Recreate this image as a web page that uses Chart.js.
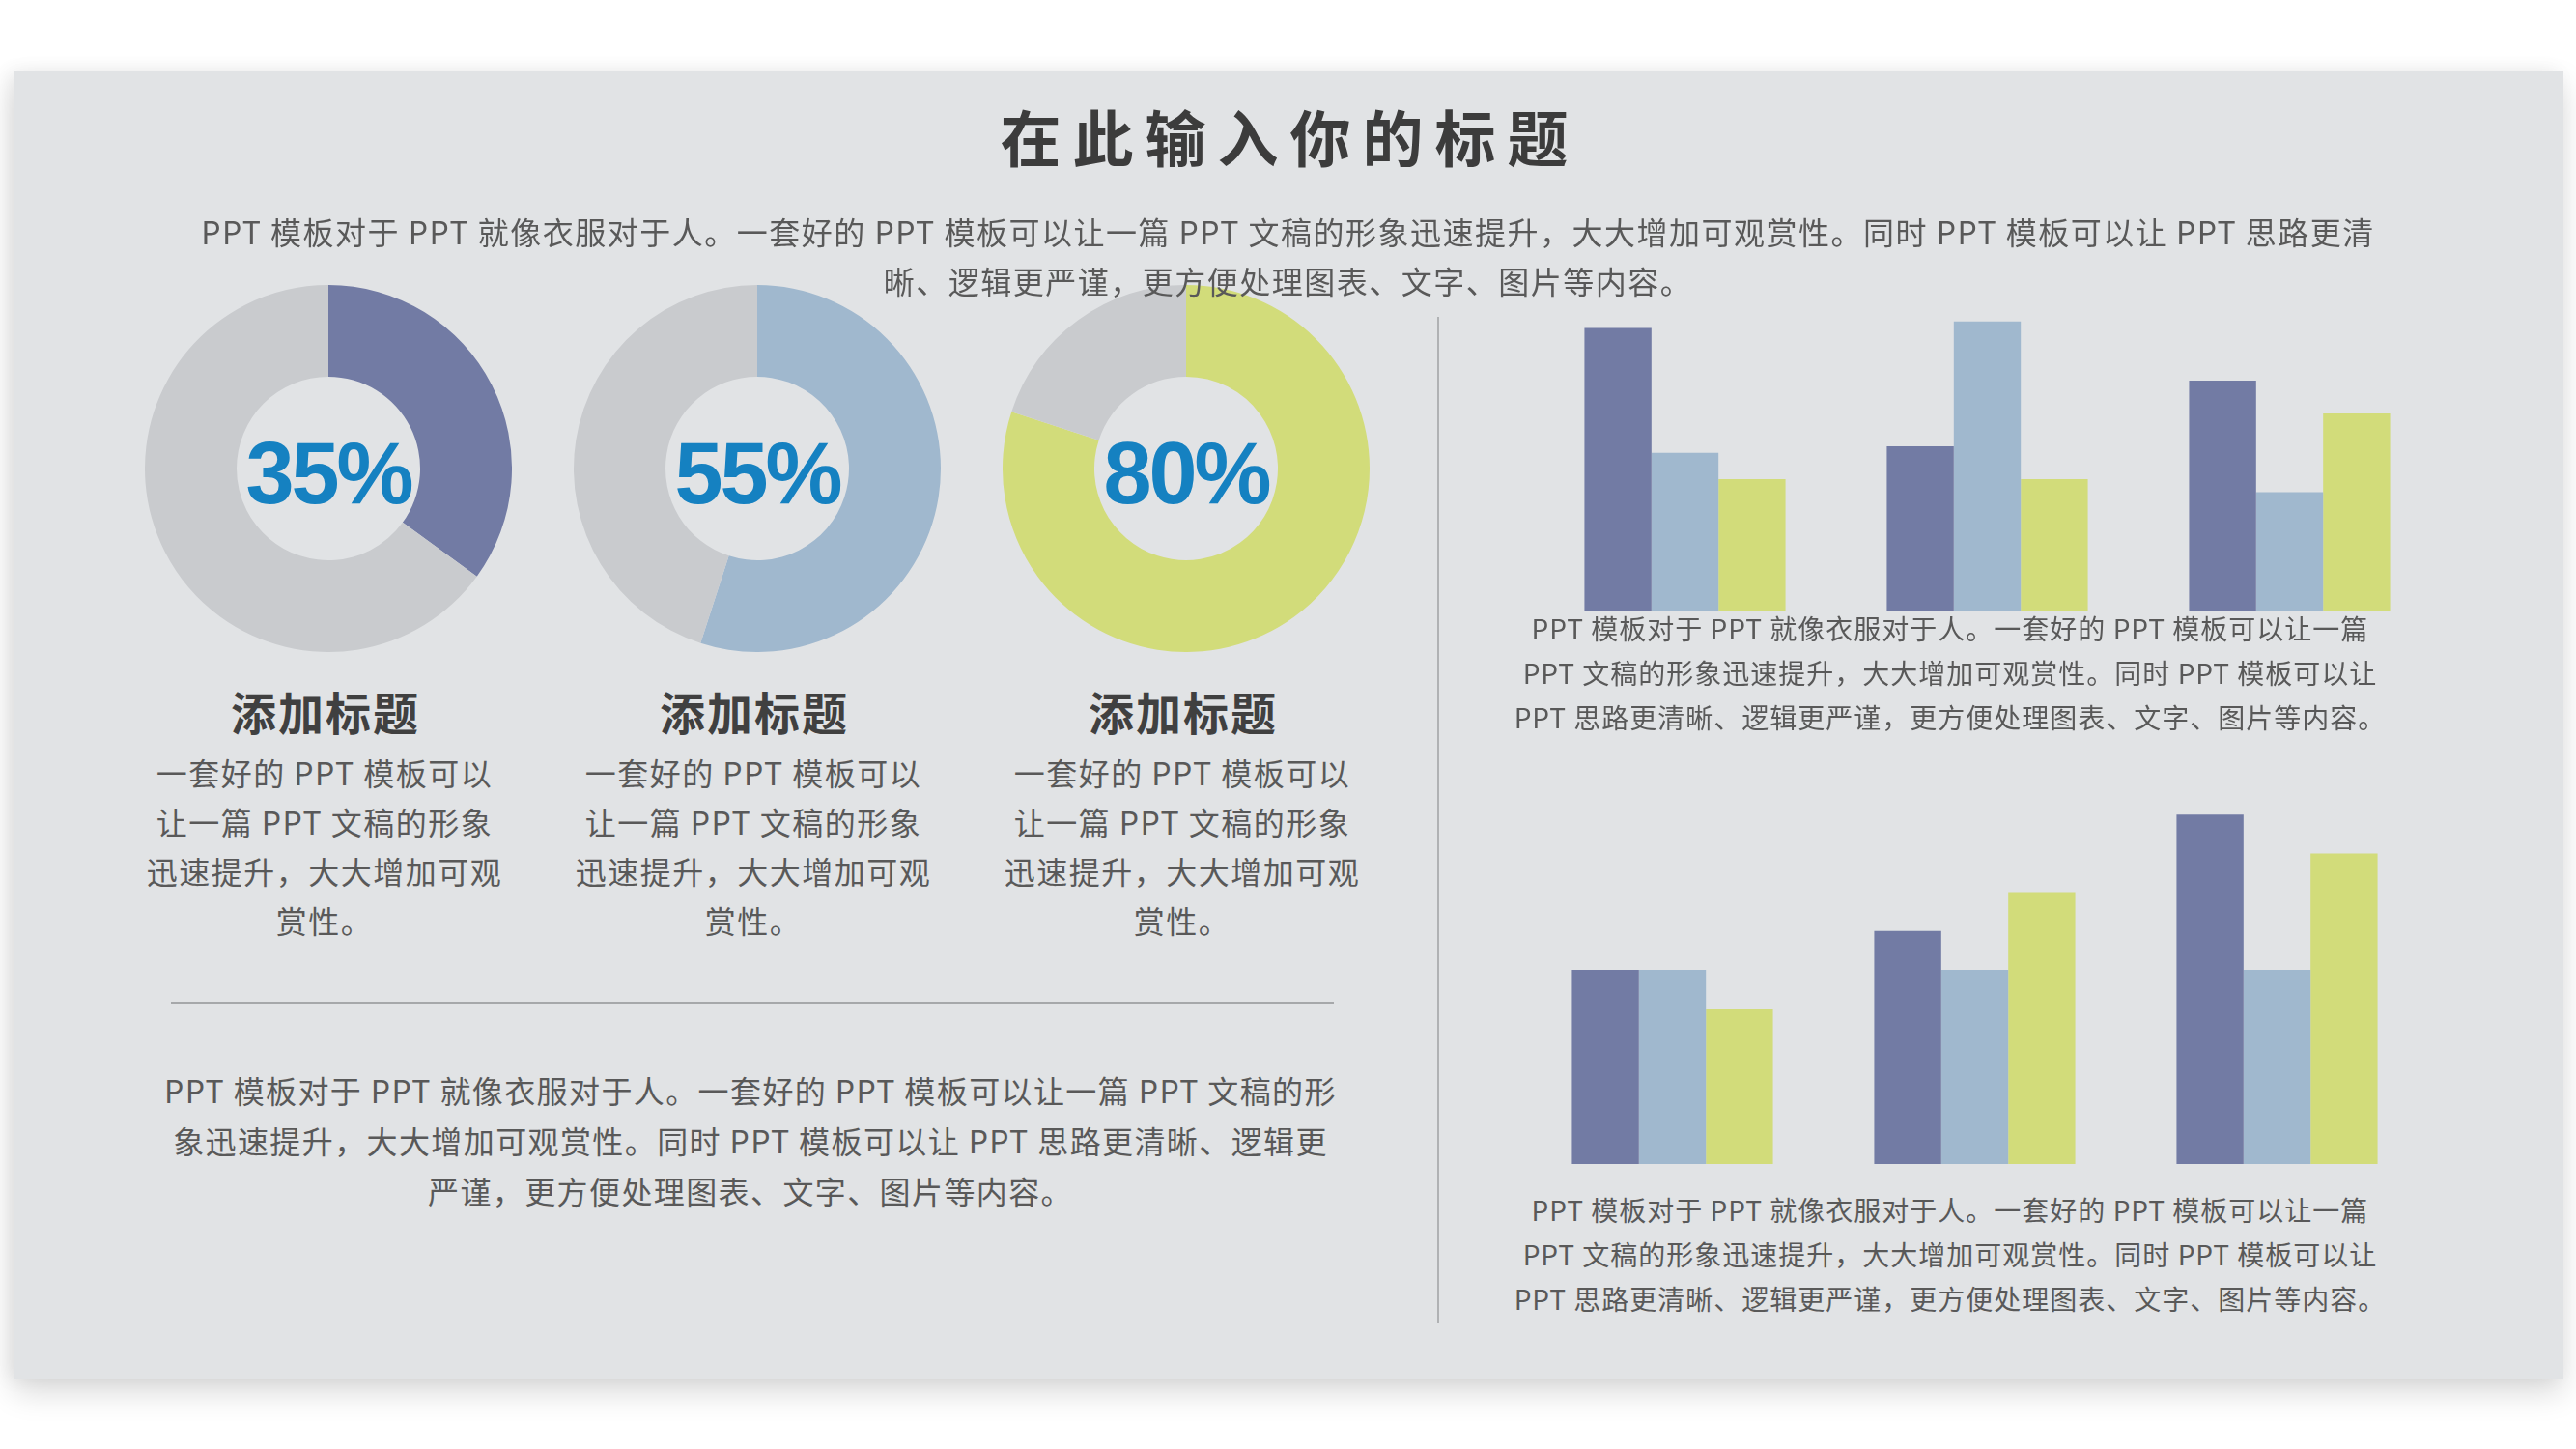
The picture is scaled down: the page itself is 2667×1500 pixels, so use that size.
<!DOCTYPE html>
<html>
<head>
<meta charset="utf-8">
<script src="https://cdn.jsdelivr.net/npm/chart.js@4.4.1/dist/chart.umd.min.js"></script>
<style>
  html, body { margin: 0; padding: 0; background: #ffffff; }
  body { width: 2667px; height: 1500px; position: relative; overflow: hidden;
         font-family: "Noto Sans CJK SC", "Noto Sans", sans-serif; color: #595959; }
  .panel { position: absolute; left: 14px; top: 73px; width: 2640px; height: 1355px;
           background: #e1e3e5; box-shadow: 0 14px 30px rgba(0,0,0,0.14), -6px 0 18px rgba(0,0,0,0.06); }
  .abs { position: absolute; white-space: nowrap; text-align: center; z-index: 2; }
  .title { left: 0; width: 2667px; top: 100px; line-height: 80px; font-size: 63px; font-weight: 700;
           color: #3c3c3c; letter-spacing: 12px; padding-left: 2px; }
  .sub { left: 0; width: 2667px; top: 214px; font-size: 32px; line-height: 51px; letter-spacing: 1.5px; }
  .pct { width: 380px; top: 440px; line-height: 100px; font-family: "Liberation Sans", Arial, sans-serif;
         font-size: 90px; font-weight: 700; color: #1581c1; letter-spacing: -3px; }
  .head { width: 400px; top: 706px; line-height: 60px; font-size: 47px; font-weight: 700; color: #404040; letter-spacing: 2px; }
  .desc { width: 420px; top: 774px; font-size: 32px; line-height: 51px; letter-spacing: 1.5px; }
  .para { width: 1300px; top: 1102px; font-size: 32px; line-height: 52px; letter-spacing: 1.4px; }
  .note { width: 1000px; font-size: 28px; line-height: 46px; letter-spacing: 1px; }
  .hline { position: absolute; left: 177px; top: 1037px; width: 1204px; height: 2px; background: #a6a8aa; }
  .vline { position: absolute; left: 1488px; top: 328px; width: 2px; height: 1042px; background: #b0b2b4; }
  canvas { position: absolute; z-index: 1; }
</style>
</head>
<body>
<div class="panel"></div>

<div class="abs title">在此输入你的标题</div>
<div class="abs sub">PPT 模板对于 PPT 就像衣服对于人。一套好的 PPT 模板可以让一篇 PPT 文稿的形象迅速提升，大大增加可观赏性。同时 PPT 模板可以让 PPT 思路更清<br>晰、逻辑更严谨，更方便处理图表、文字、图片等内容。</div>

<canvas id="donut0" width="380" height="380" style="left:150px;top:295px"></canvas>
<canvas id="donut1" width="380" height="380" style="left:594px;top:295px"></canvas>
<canvas id="donut2" width="380" height="380" style="left:1038px;top:295px"></canvas>

<div id="pct0" class="abs pct" style="left:150px"></div>
<div id="pct1" class="abs pct" style="left:594px"></div>
<div id="pct2" class="abs pct" style="left:1038px"></div>

<div class="abs head" style="left:137px">添加标题</div>
<div class="abs head" style="left:581px">添加标题</div>
<div class="abs head" style="left:1025px">添加标题</div>

<div class="abs desc" style="left:126px">一套好的 PPT 模板可以<br>让一篇 PPT 文稿的形象<br>迅速提升，大大增加可观<br>赏性。</div>
<div class="abs desc" style="left:570px">一套好的 PPT 模板可以<br>让一篇 PPT 文稿的形象<br>迅速提升，大大增加可观<br>赏性。</div>
<div class="abs desc" style="left:1014px">一套好的 PPT 模板可以<br>让一篇 PPT 文稿的形象<br>迅速提升，大大增加可观<br>赏性。</div>

<div class="hline"></div>
<div class="abs para" style="left:127px">PPT 模板对于 PPT 就像衣服对于人。一套好的 PPT 模板可以让一篇 PPT 文稿的形<br>象迅速提升，大大增加可观赏性。同时 PPT 模板可以让 PPT 思路更清晰、逻辑更<br>严谨，更方便处理图表、文字、图片等内容。</div>

<div class="vline"></div>

<canvas id="barTop" width="939" height="340" style="left:1588px;top:292px"></canvas>
<div class="abs note" style="left:1519px;top:627px">PPT 模板对于 PPT 就像衣服对于人。一套好的 PPT 模板可以让一篇<br>PPT 文稿的形象迅速提升，大大增加可观赏性。同时 PPT 模板可以让<br>PPT 思路更清晰、逻辑更严谨，更方便处理图表、文字、图片等内容。</div>

<canvas id="barBottom" width="939" height="402" style="left:1575px;top:803px"></canvas>
<div class="abs note" style="left:1519px;top:1229px">PPT 模板对于 PPT 就像衣服对于人。一套好的 PPT 模板可以让一篇<br>PPT 文稿的形象迅速提升，大大增加可观赏性。同时 PPT 模板可以让<br>PPT 思路更清晰、逻辑更严谨，更方便处理图表、文字、图片等内容。</div>

<script>
// Donut values (percent filled)
const donutValues = [35, 55, 80];
const donutLabels = ['35%', '55%', '80%'];

// Bar chart data
const barCategories = ['类别 1', '类别 2', '类别 3'];
const topSeries1 = [4.3, 2.5, 3.5];
const topSeries2 = [2.4, 4.4, 1.8];
const topSeries3 = [2, 2, 3];
const bottomSeries1 = [5, 6, 9];
const bottomSeries2 = [5, 5, 5];
const bottomSeries3 = [4, 7, 8];

const donutColors = ['#727ba4', '#a0b8ce', '#d2dc7a'];
const restColor = '#c9cbce';
const seriesColors = ['#727ba4', '#a0b8ce', '#d2dc7a'];

Chart.defaults.font.family = "'Noto Sans CJK SC', sans-serif";

// Doughnuts
function drawDonut(i) {
  const ctx = document.getElementById('donut' + i).getContext('2d');
  document.getElementById('pct' + i).textContent = donutLabels[i];
  new Chart(ctx, {
    type: 'doughnut',
    data: {
      labels: ['完成', '剩余'],
      datasets: [{
        data: [donutValues[i], 100 - donutValues[i]],
        backgroundColor: [donutColors[i], restColor],
        borderWidth: 0
      }]
    },
    options: {
      responsive: false,
      devicePixelRatio: 1,
      animation: false,
      cutout: '50%',
      layout: { padding: 0 },
      plugins: { legend: { display: false }, tooltip: { enabled: false } }
    }
  });
}

// Grouped bars
function drawBars(id, s1, s2, s3, max) {
  const ctx = document.getElementById(id).getContext('2d');
  new Chart(ctx, {
    type: 'bar',
    data: {
      labels: barCategories,
      datasets: [s1, s2, s3].map((d, k) => ({
        label: '系列 ' + (k + 1),
        data: d,
        backgroundColor: seriesColors[k],
        borderWidth: 0,
        barPercentage: 1,
        categoryPercentage: 0.665
      }))
    },
    options: {
      responsive: false,
      devicePixelRatio: 1,
      animation: false,
      layout: { padding: 0 },
      plugins: { legend: { display: false }, tooltip: { enabled: false } },
      scales: {
        x: { display: false },
        y: { display: false, min: 0, max: max }
      }
    }
  });
}

donutValues.forEach((v, i) => drawDonut(i));
drawBars('barTop', topSeries1, topSeries2, topSeries3, 5);
drawBars('barBottom', bottomSeries1, bottomSeries2, bottomSeries3, 10);
</script>
</body>
</html>
